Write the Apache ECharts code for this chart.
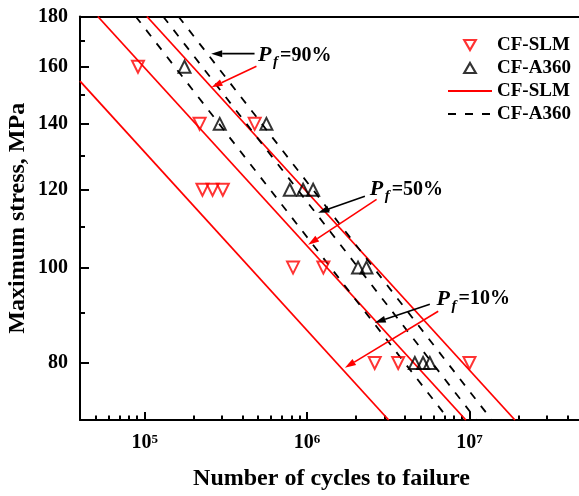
<!DOCTYPE html>
<html>
<head>
<meta charset="utf-8">
<script src="https://cdn.jsdelivr.net/npm/echarts@6/dist/echarts.min.js"></script>
<style>
  html, body { margin: 0; padding: 0; background: #fff; }
  #chart { width: 579px; height: 496px; }
</style>
</head>
<body>
<div id="chart"></div>
<script>
// Fatigue test results: cycles to failure and maximum stress (MPa)
const slmCycles  = [9.1e4, 2.18e5, 4.76e5, 2.27e5, 2.62e5, 3.03e5, 8.2e5, 1.26e6, 2.61e6, 3.64e6, 1.0e7];
const slmStress  = [160, 140, 140, 120, 120, 120, 100, 100, 80, 80, 80];
const a360Cycles = [1.76e5, 2.9e5, 5.62e5, 7.83e5, 9.45e5, 1.09e6, 2.06e6, 2.32e6, 4.61e6, 5.18e6, 5.7e6];
const a360Stress = [160, 140, 140, 120, 120, 120, 100, 100, 80, 80, 80];

// P-S-N curves for Pf = 10 %, 50 %, 90 % (start / end of each straight line)
const slmCurveCycles  = [[4.0e4, 3.18e6], [5.15e4, 9.5e6], [1.033e5, 1.905e7]];
const slmCurveStress  = [[154.7, 70], [180, 70], [180, 70]];
const a360CurveCycles = [[8.81e4, 7.49e6], [1.30e5, 1.105e7], [1.615e5, 1.373e7]];
const a360CurveStress = [[180, 70], [180, 70], [180, 70]];

// Failure-probability callouts (same order: 90 %, 50 %, 10 %)
const pfLabels      = ['90%', '50%', '10%'];
const pfAnchor      = [[4.99e5, 164.3], [2.43e6, 120.1], [6.27e6, 92.9]];
const a360ArrowFrom = [[4.75e5, 165], [2.27e6, 118.2], [5.7e6, 91.8]];
const a360ArrowTo   = [[2.57e5, 165], [1.17e6, 113.7], [2.61e6, 87.9]];
const slmArrowFrom  = [[4.88e5, 160.2], [2.68e6, 117.3], [6.42e6, 90.3]];
const slmArrowTo    = [[2.58e5, 152.5], [1.015e6, 105.5], [1.71e6, 79.1]];

// Axis extents and ticks
const xRange = [4e4, 5e7];
const yRange = [70, 180];
const xMajorTicks = [1e5, 1e6, 1e7];
const xMinorSteps = [2, 3, 4, 5, 6, 7, 8, 9];
const yMajorTicks = [80, 100, 120, 140, 160, 180];
const yMinorTicks = [90, 110, 130, 150, 170];

const RED = '#ff0000';
const BLACK = '#000000';
const NONE = 'rgba(0,0,0,0)';
const SERIF = '"Liberation Serif", "Times New Roman", serif';
const TRIANGLE_UP = 'path://M5,0 L10,8.66 L0,8.66 Z';
const TRIANGLE_DOWN = 'path://M0,0 L10,0 L5,8.66 Z';

const lg = Math.log10;
const xMin = lg(xRange[0]), xMax = lg(xRange[1]);
const yMin = lg(yRange[0]), yMax = lg(yRange[1]);

// minor ticks of the logarithmic cycle axis
const xMinorTicks = [];
for (let d = 4; d <= 7; d++) {
  xMinorSteps.forEach(m => {
    const v = lg(m * Math.pow(10, d));
    if (v >= xMin && v <= xMax) xMinorTicks.push(v);
  });
}

const toPoints = (xs, ys) => xs.map((x, i) => [lg(x), lg(ys[i])]);

function curveSeries(name, cycles, stress, color, type) {
  return cycles.map((c, i) => ({
    name: name,
    type: 'line',
    data: toPoints(c, stress[i]),
    symbol: 'none',
    showSymbol: false,
    color: color,
    lineStyle: { color: color, width: 1.8, type: type },
    clip: true,
    silent: true,
    z: 2
  }));
}

function scatterSeries(name, cycles, stress, color, rotate) {
  return {
    name: name,
    type: 'scatter',
    data: toPoints(cycles, stress),
    symbol: 'triangle',
    symbolSize: 12,
    symbolRotate: rotate,
    color: color,
    itemStyle: { color: NONE, borderColor: color, borderWidth: 2 },
    z: 4
  };
}

// arrows: [fromX, fromY, toX, toY, isRed]
const arrowData = [];
pfLabels.forEach((_, i) => {
  arrowData.push([lg(a360ArrowFrom[i][0]), lg(a360ArrowFrom[i][1]), lg(a360ArrowTo[i][0]), lg(a360ArrowTo[i][1]), 0]);
  arrowData.push([lg(slmArrowFrom[i][0]), lg(slmArrowFrom[i][1]), lg(slmArrowTo[i][0]), lg(slmArrowTo[i][1]), 1]);
});

function renderArrow(params, api) {
  const p0 = api.coord([api.value(0), api.value(1)]);
  const p1 = api.coord([api.value(2), api.value(3)]);
  const color = api.value(4) ? RED : BLACK;
  const dx = p1[0] - p0[0], dy = p1[1] - p0[1];
  const len = Math.sqrt(dx * dx + dy * dy);
  const ux = dx / len, uy = dy / len;
  const L = 11, W = 7;
  const bx = p1[0] - ux * L, by = p1[1] - uy * L;
  return {
    type: 'group',
    children: [
      { type: 'line', shape: { x1: p0[0], y1: p0[1], x2: bx, y2: by },
        style: { stroke: color, lineWidth: 1.6 } },
      { type: 'polygon',
        shape: { points: [[p1[0], p1[1]], [bx - uy * W / 2, by + ux * W / 2], [bx + uy * W / 2, by - ux * W / 2]] },
        style: { fill: color } }
    ]
  };
}

const labelData = pfAnchor.map((p, i) => [lg(p[0]), lg(p[1]), i]);

function renderPfLabel(params, api) {
  const p = api.coord([api.value(0), api.value(1)]);
  const txt = pfLabels[api.value(2)];
  return {
    type: 'group',
    children: [
      { type: 'text', style: { text: 'P', x: p[0], y: p[1], align: 'left', verticalAlign: 'middle',
          font: 'italic bold 22px ' + SERIF, fill: BLACK } },
      { type: 'text', style: { text: 'f', x: p[0] + 15, y: p[1] + 7, align: 'left', verticalAlign: 'middle',
          font: 'italic bold 15px ' + SERIF, fill: BLACK } },
      { type: 'text', style: { text: '=' + txt, x: p[0] + 22, y: p[1], align: 'left', verticalAlign: 'middle',
          font: 'bold 20px ' + SERIF, fill: BLACK } }
    ]
  };
}

const axisLineStyle = { show: true, onZero: false, lineStyle: { color: BLACK, width: 2 } };
const hiddenMarker = { color: NONE, borderColor: NONE, borderWidth: 0 };

const option = {
  animation: false,
  backgroundColor: '#fff',
  grid: { left: 80, top: 16.5, bottom: 76, width: 503, containLabel: false, outerBoundsMode: 'none' },
  legend: {
    orient: 'vertical',
    left: 447,
    top: 33.5,
    padding: 0,
    itemWidth: 44,
    itemHeight: 10,
    itemGap: 0,
    selectedMode: false,
    data: [
      { name: 'CF-SLM data', icon: TRIANGLE_DOWN, symbolRotate: 0,
        itemStyle: { color: NONE, borderColor: RED, borderWidth: 2.2 } },
      { name: 'CF-A360 data', icon: TRIANGLE_UP, symbolRotate: 0,
        itemStyle: { color: NONE, borderColor: BLACK, borderWidth: 2.2 } },
      { name: 'CF-SLM fit', itemStyle: hiddenMarker },
      { name: 'CF-A360 fit', itemStyle: hiddenMarker }
    ],
    formatter: name => name.replace(/ (data|fit)$/, ''),
    textStyle: { fontFamily: SERIF, fontWeight: 'bold', fontSize: 19, lineHeight: 23, color: BLACK }
  },
  xAxis: [
    {
      type: 'value', min: xMin, max: xMax, position: 'bottom',
      name: 'Number of cycles to failure', nameLocation: 'middle', nameGap: 47,
      nameMoveOverlap: false,
      nameTextStyle: { fontFamily: SERIF, fontWeight: 'bold', fontSize: 24, color: BLACK },
      axisLine: axisLineStyle,
      axisTick: { show: true, inside: true, length: 8, lineStyle: { color: BLACK, width: 2 },
                  customValues: xMajorTicks.map(lg) },
      axisLabel: {
        show: true, margin: 13, customValues: xMajorTicks.map(lg),
        formatter: v => '{b|10}{s|' + Math.round(v) + '}',
        rich: {
          b: { fontFamily: SERIF, fontWeight: 'bold', fontSize: 20, color: BLACK },
          s: { fontFamily: SERIF, fontWeight: 'bold', fontSize: 13, color: BLACK, verticalAlign: 'top' }
        }
      },
      splitLine: { show: false }
    },
    {
      type: 'value', min: xMin, max: xMax, position: 'bottom',
      axisLine: { show: false, onZero: false },
      axisTick: { show: true, inside: true, length: 4.5, lineStyle: { color: BLACK, width: 2 },
                  customValues: xMinorTicks },
      axisLabel: { show: false },
      splitLine: { show: false }
    },
    {
      type: 'value', min: xMin, max: xMax, position: 'top',
      axisLine: axisLineStyle,
      axisTick: { show: false }, axisLabel: { show: false }, splitLine: { show: false }
    }
  ],
  yAxis: [
    {
      type: 'value', min: yMin, max: yMax, position: 'left',
      name: 'Maximum stress, MPa', nameLocation: 'middle', nameGap: 50, nameRotate: 90,
      nameMoveOverlap: false,
      nameTextStyle: { fontFamily: SERIF, fontWeight: 'bold', fontSize: 24, color: BLACK },
      axisLine: axisLineStyle,
      axisTick: { show: true, inside: true, length: 9, lineStyle: { color: BLACK, width: 2 },
                  customValues: yMajorTicks.map(lg) },
      axisLabel: {
        show: true, margin: 12, customValues: yMajorTicks.map(lg),
        formatter: v => String(Math.round(Math.pow(10, v))),
        fontFamily: SERIF, fontWeight: 'bold', fontSize: 20, color: BLACK
      },
      splitLine: { show: false }
    },
    {
      type: 'value', min: yMin, max: yMax, position: 'left',
      axisLine: { show: false, onZero: false },
      axisTick: { show: true, inside: true, length: 5, lineStyle: { color: BLACK, width: 2 },
                  customValues: yMinorTicks.map(lg) },
      axisLabel: { show: false },
      splitLine: { show: false }
    }
  ],
  series: [
    ...curveSeries('CF-SLM fit', slmCurveCycles, slmCurveStress, RED, 'solid'),
    ...curveSeries('CF-A360 fit', a360CurveCycles, a360CurveStress, BLACK, [8, 9]),
    scatterSeries('CF-SLM data', slmCycles, slmStress, RED, 180),
    scatterSeries('CF-A360 data', a360Cycles, a360Stress, BLACK, 0),
    {
      type: 'custom', renderItem: renderArrow, data: arrowData, silent: true, z: 5,
      encode: { x: [0, 2], y: [1, 3] }
    },
    {
      type: 'custom', renderItem: renderPfLabel, data: labelData, silent: true, z: 5,
      encode: { x: 0, y: 1 }
    }
  ]
};

const chart = echarts.init(document.getElementById('chart'));
chart.setOption(option);
</script>
</body>
</html>
